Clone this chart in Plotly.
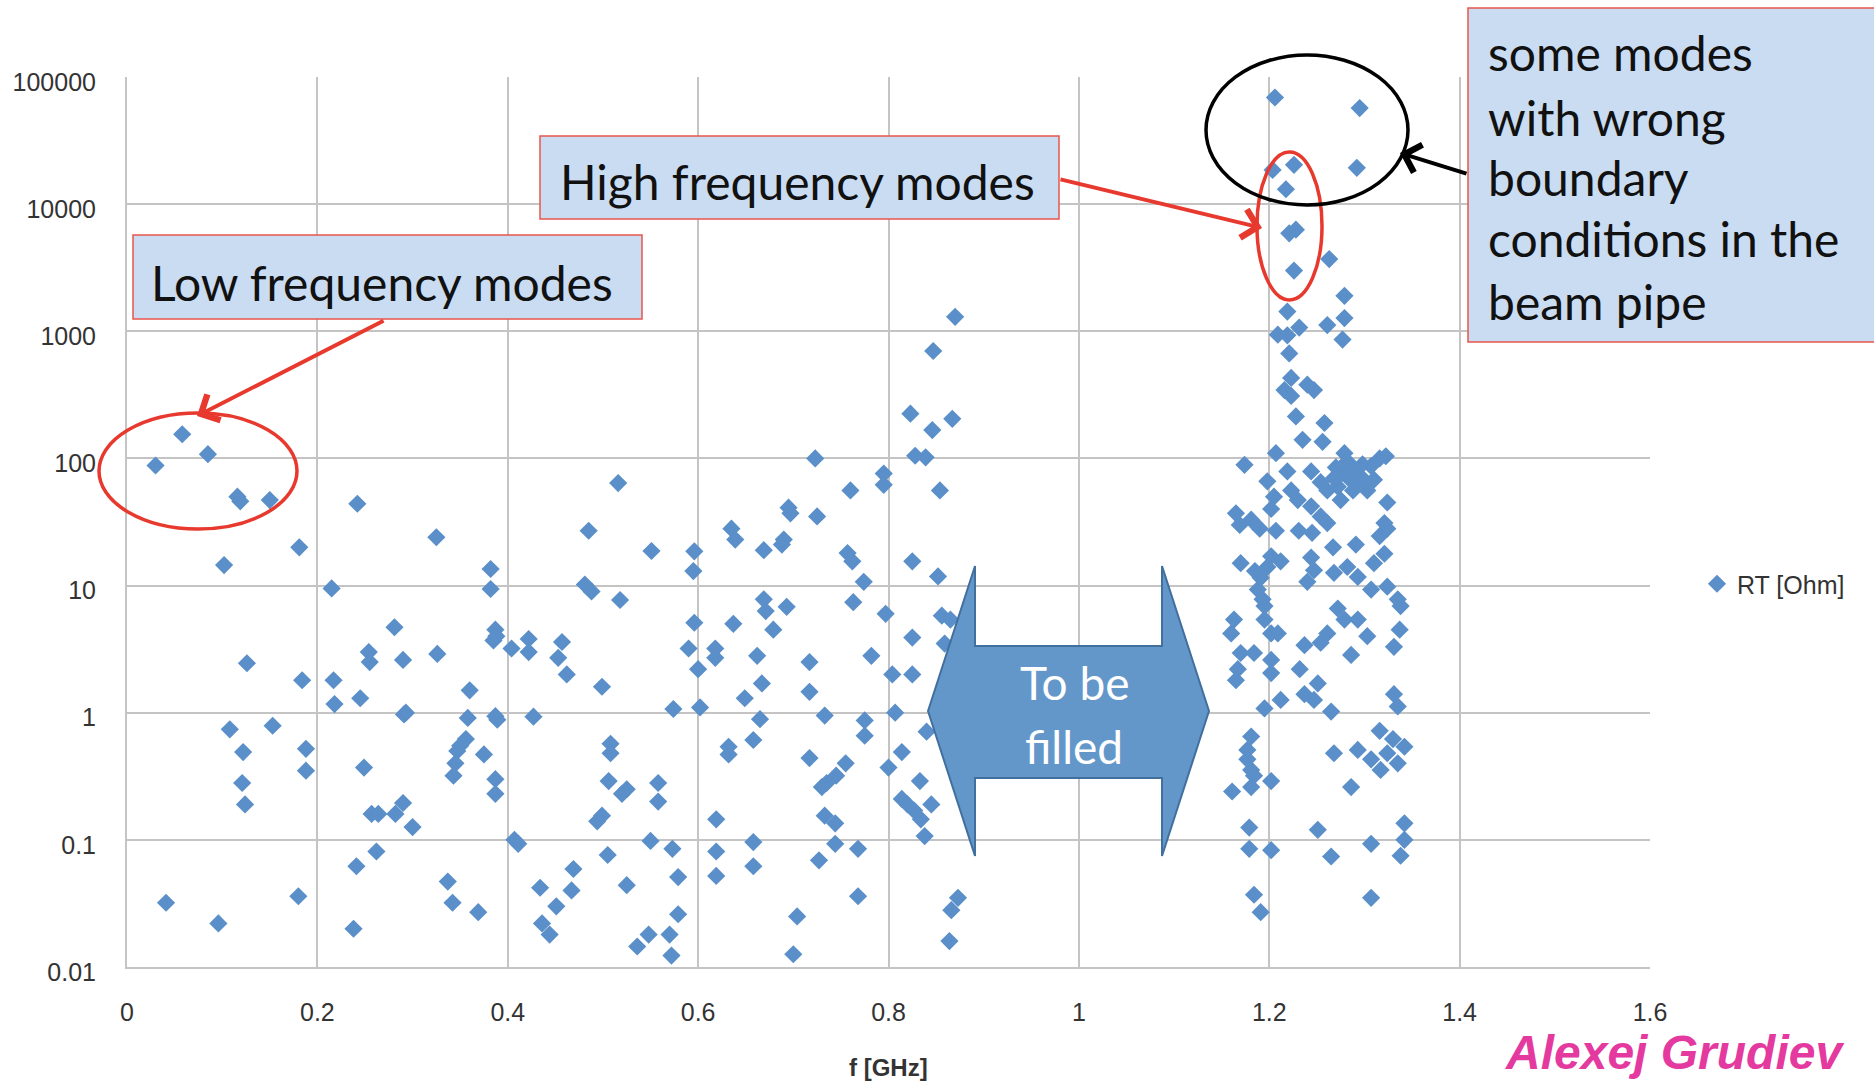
import plotly.graph_objects as go

# ---- data: transverse shunt impedance RT [Ohm] of the computed modes vs. frequency [GHz]
# low-frequency band (0 - 0.4 GHz)
f_low = [0.030, 0.058, 0.085, 0.116, 0.119, 0.150, 0.102, 0.181, 0.242, 0.325,
         0.215, 0.382, 0.382, 0.281, 0.254, 0.255, 0.290, 0.326, 0.126, 0.184,
         0.217, 0.218, 0.245, 0.293, 0.291, 0.360, 0.387, 0.385, 0.388, 0.387,
         0.389, 0.108, 0.153, 0.122, 0.188, 0.188, 0.121, 0.124, 0.249, 0.257,
         0.264, 0.282, 0.290, 0.300, 0.358, 0.356, 0.350, 0.347, 0.345, 0.343,
         0.375, 0.387, 0.387, 0.241, 0.262, 0.337, 0.342, 0.369, 0.238, 0.041,
         0.096, 0.180]
rt_low = [88, 155, 108, 50, 46, 47, 14.5, 20, 44, 24,
          9.5, 13.5, 9.4, 4.7, 3.0, 2.5, 2.6, 2.9, 2.45, 1.8,
          1.8, 1.17, 1.3, 1.0, 0.97, 1.5, 4.5, 3.7, 4.0, 0.94,
          0.88, 0.74, 0.79, 0.49, 0.52, 0.35, 0.28, 0.19, 0.37, 0.16,
          0.16, 0.16, 0.195, 0.126, 0.91, 0.62, 0.55, 0.50, 0.40, 0.32,
          0.47, 0.30, 0.23, 0.062, 0.081, 0.047, 0.032, 0.027, 0.020, 0.032,
          0.022, 0.036]

# mid band (0.4 - 0.9 GHz)
f_mid = [0.823, 0.846, 0.867, 0.870, 0.847, 0.723, 0.828, 0.839, 0.795, 0.795,
         0.760, 0.854, 0.725, 0.695, 0.697, 0.690, 0.688, 0.669, 0.635, 0.639,
         0.596, 0.595, 0.551, 0.516, 0.485, 0.481, 0.488, 0.518, 0.757, 0.762,
         0.774, 0.763, 0.825, 0.852, 0.797, 0.856, 0.865, 0.859, 0.669, 0.671,
         0.679, 0.693, 0.637, 0.596, 0.590, 0.618, 0.618, 0.600, 0.662, 0.717,
         0.782, 0.825, 0.804, 0.825, 0.807, 0.717, 0.667, 0.649, 0.733, 0.665,
         0.658, 0.632, 0.632, 0.775, 0.775, 0.840, 0.814, 0.800, 0.755, 0.745,
         0.735, 0.730, 0.717, 0.833, 0.814, 0.820, 0.827, 0.834, 0.838, 0.845,
         0.733, 0.744, 0.744, 0.768, 0.727, 0.768, 0.704, 0.700, 0.658, 0.658,
         0.619, 0.619, 0.619, 0.573, 0.579, 0.579, 0.550, 0.558, 0.558, 0.525,
         0.520, 0.506, 0.508, 0.508, 0.499, 0.494, 0.505, 0.525, 0.536, 0.548,
         0.570, 0.572, 0.469, 0.467, 0.434, 0.451, 0.436, 0.444, 0.407, 0.411,
         0.427, 0.404, 0.422, 0.422, 0.457, 0.453, 0.462, 0.499, 0.574, 0.602,
         0.873, 0.866, 0.864]
rt_mid = [225, 167, 205, 1300, 700, 100, 105, 102, 76, 62,
          56, 56, 35, 41, 37, 23, 21, 19, 28, 23,
          18.6, 13, 18.7, 64, 27, 10.2, 9.0, 7.7, 18, 15.5,
          10.7, 7.4, 15.5, 11.8, 6.0, 5.8, 5.4, 3.5, 7.8, 6.3,
          4.5, 6.8, 5.0, 5.1, 3.2, 3.2, 2.7, 2.2, 2.8, 2.5,
          2.8, 3.9, 2.0, 2.0, 1.0, 1.46, 1.7, 1.3, 0.95, 0.89,
          0.61, 0.54, 0.47, 0.87, 0.66, 0.71, 0.49, 0.37, 0.40, 0.32,
          0.28, 0.26, 0.44, 0.29, 0.21, 0.19, 0.17, 0.145, 0.107, 0.19,
          0.155, 0.135, 0.093, 0.085, 0.069, 0.036, 0.025, 0.0126, 0.096, 0.062,
          0.145, 0.081, 0.052, 0.085, 0.051, 0.026, 0.098, 0.28, 0.20, 0.25,
          0.23, 0.29, 0.57, 0.48, 0.155, 0.14, 0.076, 0.044, 0.0145, 0.018,
          0.018, 0.0123, 0.059, 0.040, 0.042, 0.030, 0.022, 0.018, 0.10, 0.093,
          0.93, 3.2, 3.8, 3.0, 3.6, 2.7, 2.0, 1.6, 1.07, 1.1,
          0.035, 0.028, 0.016]

# high-frequency band (1.15 - 1.35 GHz)
f_high = [1.206, 1.295, 1.292, 1.2035, 1.226, 1.2175, 1.221, 1.228, 1.263, 1.226,
          1.279, 1.219, 1.279, 1.261, 1.2315, 1.209, 1.219, 1.277, 1.221, 1.223,
          1.216, 1.223, 1.247, 1.240, 1.228, 1.258, 1.235, 1.256, 1.207, 1.174,
          1.3225, 1.279, 1.198, 1.219, 1.205, 1.202, 1.165, 1.181, 1.223, 1.230,
          1.244, 1.254, 1.261, 1.272, 1.286, 1.296, 1.303, 1.288, 1.275, 1.307,
          1.324, 1.244, 1.254, 1.321, 1.261, 1.280, 1.292, 1.268, 1.310, 1.316,
          1.282, 1.290, 1.298, 1.270, 1.300, 1.285, 1.275, 1.169, 1.190, 1.207,
          1.231, 1.245, 1.324, 1.170, 1.202, 1.212, 1.244, 1.247, 1.267, 1.291,
          1.316, 1.321, 1.310, 1.191, 1.188, 1.193, 1.185, 1.198, 1.240, 1.268,
          1.282, 1.293, 1.307, 1.324, 1.335, 1.338, 1.272, 1.279, 1.293, 1.303,
          1.286, 1.261, 1.254, 1.237, 1.232, 1.251, 1.237, 1.247, 1.265, 1.337,
          1.331, 1.331, 1.335, 1.195, 1.195, 1.202, 1.209, 1.163, 1.160, 1.170,
          1.184, 1.202, 1.167, 1.165, 1.202, 1.212, 1.195, 1.181, 1.177, 1.177,
          1.181, 1.184, 1.161, 1.181, 1.202, 1.179, 1.179, 1.202, 1.184, 1.191,
          1.251, 1.265, 1.286, 1.307, 1.307, 1.342, 1.342, 1.338, 1.268, 1.307,
          1.317, 1.335, 1.324, 1.342, 1.293, 1.316, 1.330]
rt_high = [69000, 57000, 19300, 18600, 20400, 13100, 5900, 6300, 3700, 3000,
           1900, 1430, 1270, 1120, 1070, 940, 930, 860, 670, 430,
           345, 310, 345, 380, 214, 190, 140, 135, 110, 89,
           104, 110, 66, 79, 50, 40, 37, 33, 56, 47,
           79, 65, 56, 60, 87, 72, 56, 56, 47, 87,
           45, 42, 35, 31, 31, 77, 64, 70, 68, 100,
           95, 80, 90, 85, 65, 68, 75, 30, 28, 27,
           27, 26, 28, 15, 17, 15.5, 16.6, 13.2, 20, 21,
           24.5, 17.8, 15, 11.5, 9.3, 7.8, 13, 14, 10.7, 12.6,
           14, 11.7, 9.3, 9.8, 7.8, 6.9, 6.6, 5.4, 5.4, 4.0,
           2.85, 4.2, 3.55, 3.4, 2.2, 1.7, 1.4, 1.26, 1.02, 4.5,
           3.3, 1.4, 1.12, 6.9, 5.4, 4.2, 4.2, 5.4, 4.2, 2.95,
           2.95, 2.6, 2.2, 1.8, 2.05, 1.26, 1.08, 0.65, 0.51, 0.43,
           0.355, 0.32, 0.24, 0.26, 0.29, 0.125, 0.085, 0.083, 0.037, 0.027,
           0.12, 0.074, 0.26, 0.093, 0.035, 0.135, 0.10, 0.075, 0.48, 0.43,
           0.355, 0.40, 0.48, 0.54, 0.51, 0.72, 0.62]

freq = f_low + f_mid + f_high
rt = rt_low + rt_mid + rt_high

x_ticks = [0, 0.2, 0.4, 0.6, 0.8, 1.0, 1.2, 1.4, 1.6]
x_ticktext = ["0", "0.2", "0.4", "0.6", "0.8", "1", "1.2", "1.4", "1.6"]
y_ticks = [0.01, 0.1, 1, 10, 100, 1000, 10000, 100000]
y_ticktext = ["0.01", "0.1", "1", "10", "100", "1000", "10000", "100000"]

# ---- page geometry (pixels) used to place the overlay drawings
W, H = 1874, 1082
L, R, T, B = 127, 1650, 77, 967


def px(x):
    return (x - L) / (R - L)


def py(y):
    return (B - y) / (B - T)


MARK = "#5B8FC9"
RED = "#E8392E"
BOX_FILL = "#C9DCF1"
GRID = "#C4C4C4"
TXT = "#333333"
TICK_FONT = dict(family="Liberation Sans, Arial", size=25, color=TXT)
NOTE_FONT = "Lato, Carlito, Calibri, sans-serif"

fig = go.Figure()
fig.add_trace(go.Scatter(
    x=freq, y=rt, mode="markers", name="RT [Ohm]",
    marker=dict(symbol="diamond", size=14, color=MARK, line=dict(width=0)),
))

shapes = []
# callout boxes
for (x0, y0, x1, y1) in [(133, 235, 642, 319), (540, 136, 1059, 219), (1468, 8, 1895, 342)]:
    shapes.append(dict(type="rect", xref="paper", yref="paper",
                       x0=px(x0), x1=px(x1), y0=py(y0), y1=py(y1),
                       fillcolor=BOX_FILL, line=dict(color="#E8564C", width=1.5)))
# ellipses marking the mode groups
shapes.append(dict(type="circle", xref="paper", yref="paper",
                   x0=px(99), x1=px(297), y0=py(413), y1=py(529),
                   line=dict(color=RED, width=3.5)))
shapes.append(dict(type="circle", xref="paper", yref="paper",
                   x0=px(1257), x1=px(1322), y0=py(152), y1=py(300),
                   line=dict(color=RED, width=3.5)))
shapes.append(dict(type="circle", xref="paper", yref="paper",
                   x0=px(1206), x1=px(1408), y0=py(55), y1=py(205),
                   line=dict(color="black", width=3.5)))
# double-headed block arrow over the empty frequency gap
arrow_pts = [(928, 711), (975, 566), (975, 646), (1162, 646), (1162, 566), (1209, 711),
             (1162, 856), (1162, 778), (975, 778), (975, 856)]
path = "M " + " L ".join(f"{px(a):.5f},{py(b):.5f}" for a, b in arrow_pts) + " Z"
shapes.append(dict(type="path", xref="paper", yref="paper", path=path,
                   fillcolor="#6497C9", line=dict(color="#416F9E", width=2)))

annotations = []


def note(text, x, y, size=48, color="#111111", xanchor="left", family=NOTE_FONT):
    annotations.append(dict(text=text, xref="paper", yref="paper", x=px(x), y=py(y),
                            xanchor=xanchor, yanchor="middle", showarrow=False,
                            font=dict(family=family, size=size, color=color)))


note("Low frequency modes", 149, 282)
note("High frequency modes", 558, 181)
for i, line in enumerate(["some modes", "with wrong", "boundary",
                          "conditions in the", "beam pipe"]):
    note(line, 1486, [53, 117, 177, 239, 301][i])
note("To be", 1074, 683, size=46, color="white", xanchor="center")
note("filled", 1074, 746, size=46, color="white", xanchor="center")


def pointer(x_tip, y_tip, x_tail, y_tail, color):
    annotations.append(dict(text="", xref="paper", yref="paper",
                            x=px(x_tip), y=py(y_tip), ax=x_tail - x_tip, ay=y_tail - y_tip,
                            showarrow=True, arrowhead=4, arrowsize=1.4, arrowwidth=4,
                            arrowcolor=color, standoff=0, startstandoff=0))


pointer(197, 416, 385, 320, RED)
pointer(1262, 228, 1059, 179, RED)
pointer(1400, 153, 1468, 174, "black")

# axis title and author credit
note("<b>f [GHz]</b>", 888, 1067, size=24, color=TXT, xanchor="center",
     family="Liberation Sans, Arial")
note("<b><i>Alexej Grudiev</i></b>", 1674, 1052, size=48, color="#E43A9F",
     xanchor="center", family="Liberation Sans, Arial")

fig.update_layout(
    width=W, height=H,
    margin=dict(l=L, r=W - R, t=T, b=H - B, autoexpand=False),
    paper_bgcolor="white", plot_bgcolor="white",
    showlegend=True,
    legend=dict(x=px(1697), y=py(584), xanchor="left", yanchor="middle",
                font=dict(family="Liberation Sans, Arial", size=25, color=TXT),
                bgcolor="rgba(0,0,0,0)"),
    shapes=shapes, annotations=annotations,
)
fig.update_xaxes(range=[0, 1.6], tickvals=x_ticks, ticktext=x_ticktext,
                 showgrid=True, gridcolor=GRID, gridwidth=2,
                 showline=True, linecolor=GRID, linewidth=2,
                 zeroline=False, ticks="", tickfont=TICK_FONT, ticklabelstandoff=22)
fig.update_yaxes(type="log", range=[-2, 5], tickvals=y_ticks, ticktext=y_ticktext,
                 showgrid=True, gridcolor=GRID, gridwidth=2,
                 showline=True, linecolor=GRID, linewidth=2,
                 zeroline=False, ticks="", tickfont=TICK_FONT, ticklabelstandoff=24,
                 ticklabelshift=5)

fig.write_html("out.html")
